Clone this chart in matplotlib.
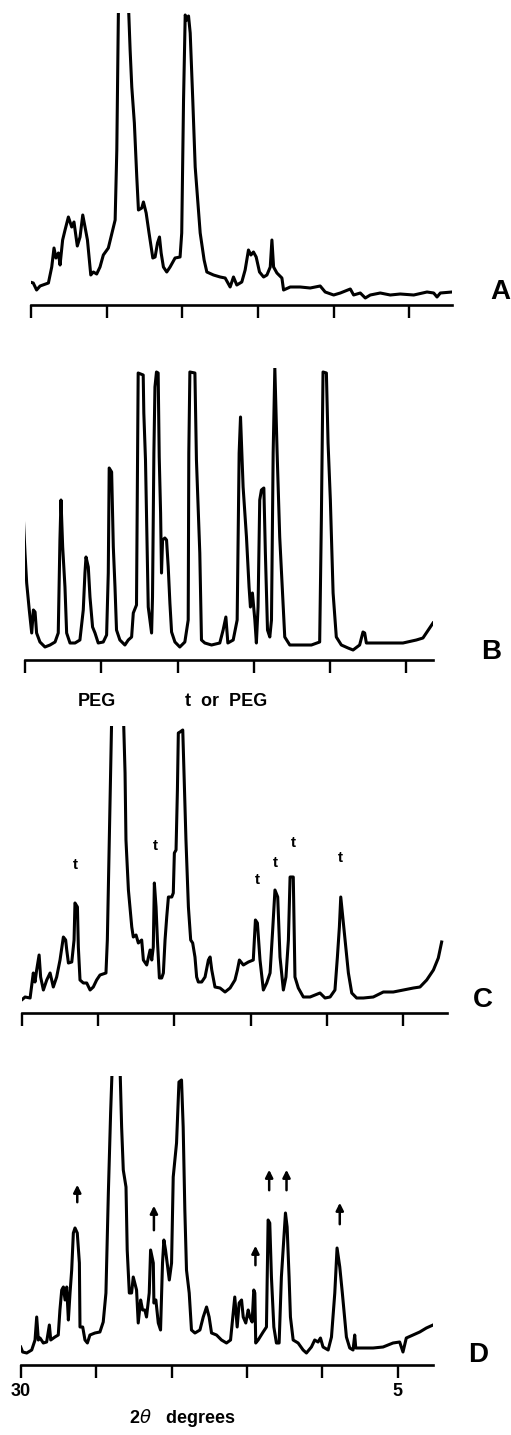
import matplotlib
matplotlib.use("Agg")
import matplotlib.pyplot as plt

plt.rcParams['font.family'] = ['Liberation Sans', 'DejaVu Sans']

# X-ray diffraction traces, 2theta (degrees) vs intensity (arb. units)
a_2theta = [30.07, 29.85, 29.63, 29.40, 28.85, 28.63, 28.48, 28.35, 28.19, 28.08, 27.91, 27.75, 27.53, 27.31,
            27.16, 26.94, 26.76, 26.58, 26.43, 26.27, 26.05, 25.88, 25.66, 25.44, 25.22, 24.89, 24.44, 24.33,
            24.22, 23.90, 23.56, 23.45, 23.34, 23.17, 23.01, 22.90, 22.68, 22.57, 22.39, 22.20, 21.95, 21.80,
            21.64, 21.51, 21.40, 21.25, 21.03, 20.81, 20.48, 20.15, 20.04, 19.92, 19.81, 19.70, 19.59, 19.48,
            19.31, 19.15, 18.82, 18.56, 18.38, 17.94, 17.50, 17.17, 16.84, 16.62, 16.40, 16.07, 15.85, 15.63,
            15.47, 15.30, 15.12, 14.90, 14.63, 14.41, 14.19, 14.08, 13.97, 13.75, 13.42, 13.31, 12.87, 12.21,
            11.55, 10.89, 10.56, 10.00, 9.56, 8.90, 8.68, 8.24, 7.91, 7.58, 6.92, 6.26, 5.60, 4.71, 3.83,
            3.39, 3.17, 2.95, 2.18]
a_counts = [23, 22, 15, 19, 22, 38, 57, 47, 52, 40, 65, 75, 88, 78,
            83, 59, 68, 90, 78, 65, 30, 33, 31, 38, 50, 57, 85, 155,
            300, 420, 300, 255, 218, 182, 128, 95, 97, 103, 92, 72, 47, 48,
            62, 68, 52, 38, 33, 38, 47, 48, 72, 205, 290, 285, 289, 272,
            205, 138, 72, 45, 33, 30, 28, 27, 18, 28, 20, 23, 35, 55,
            50, 53, 48, 33, 28, 30, 38, 65, 38, 32, 27, 15, 18, 18,
            17, 19, 13, 10, 12, 16, 10, 12, 7, 10, 12, 10, 11, 10, 13,
            12, 8, 12, 13]

b_2theta = [30.15, 30.00, 29.89, 29.72, 29.56, 29.45, 29.34, 29.24, 29.02, 28.69, 28.36, 28.03, 27.82, 27.71,
            27.64, 27.53, 27.38, 27.27, 27.05, 26.72, 26.40, 26.18, 26.07, 26.00, 25.85, 25.74, 25.57, 25.41,
            25.20, 24.87, 24.65, 24.54, 24.48, 24.32, 24.21, 24.10, 24.00, 23.78, 23.45, 23.23, 23.01, 22.90,
            22.69, 22.58, 22.25, 22.21, 22.10, 21.92, 21.81, 21.70, 21.64, 21.55, 21.48, 21.38, 21.27, 21.20,
            21.11, 21.05, 20.98, 20.83, 20.72, 20.61, 20.50, 20.39, 20.17, 19.85, 19.52, 19.30, 19.26, 19.19,
            18.86, 18.76, 18.54, 18.43, 18.21, 17.77, 17.23, 17.01, 16.83, 16.70, 16.35, 16.09, 15.96, 15.87,
            15.70, 15.48, 15.31, 15.22, 15.09, 14.93, 14.83, 14.72, 14.61, 14.50, 14.34, 14.24, 14.10, 13.95,
            13.84, 13.73, 13.62, 13.47, 13.30, 12.97, 12.64, 11.99, 11.22, 10.68, 10.57, 10.46, 10.24, 10.13,
            9.98, 9.80, 9.59, 9.26, 8.82, 8.49, 8.06, 7.84, 7.73, 7.62, 6.97, 6.09, 5.22, 4.34, 3.91, 3.69,
            3.47, 3.25]
b_counts = [155, 107, 77, 50, 27, 50, 48, 27, 18, 13, 15, 18, 27, 120,
            160, 113, 73, 27, 17, 17, 20, 50, 87, 103, 93, 63, 33, 27,
            17, 18, 25, 87, 192, 188, 113, 73, 30, 20, 15, 20, 23, 47,
            55, 287, 285, 247, 200, 53, 40, 27, 63, 207, 273, 288, 287, 203,
            147, 87, 120, 122, 120, 93, 57, 28, 18, 13, 18, 40, 207, 288,
            287, 200, 107, 20, 17, 15, 17, 30, 43, 17, 20, 40, 207, 243,
            173, 123, 73, 53, 67, 40, 17, 53, 160, 170, 172, 107, 30, 23,
            40, 207, 292, 207, 123, 23, 15, 15, 15, 18, 140, 288, 287, 217,
            160, 67, 23, 15, 12, 10, 15, 28, 27, 17, 17, 17, 17, 20, 22, 27,
            32, 37]

c_2theta = [30.11, 30.00, 29.78, 29.45, 29.24, 29.13, 29.02, 28.86, 28.76, 28.58, 28.36, 28.14, 27.93, 27.71,
            27.49, 27.27, 27.12, 27.05, 26.94, 26.72, 26.57, 26.51, 26.35, 26.29, 26.18, 25.96, 25.74, 25.52,
            25.31, 25.09, 24.87, 24.48, 24.39, 24.26, 24.10, 23.72, 23.34, 23.23, 23.17, 23.01, 22.79, 22.69,
            22.51, 22.36, 22.14, 22.03, 21.81, 21.59, 21.48, 21.38, 21.31, 21.20, 21.11, 20.98, 20.83, 20.72,
            20.61, 20.50, 20.39, 20.17, 20.07, 20.00, 19.89, 19.80, 19.74, 19.63, 19.45, 19.37, 19.24, 19.08,
            18.93, 18.80, 18.65, 18.54, 18.43, 18.21, 17.99, 17.77, 17.66, 17.55, 17.34, 17.01, 16.68, 16.35,
            16.03, 15.87, 15.74, 15.48, 15.15, 14.83, 14.69, 14.56, 14.39, 14.17, 13.95, 13.73, 13.56, 13.41,
            13.23, 13.08, 12.86, 12.69, 12.53, 12.42, 12.21, 12.10, 11.88, 11.55, 11.11, 10.46, 10.13, 9.80,
            9.48, 9.32, 9.19, 9.10, 8.97, 8.82, 8.60, 8.38, 8.06, 7.62, 6.97, 6.31, 5.66, 5.00, 4.34, 3.91,
            3.47, 3.03, 2.71, 2.49]
c_counts = [15, 13, 16, 15, 40, 31, 43, 58, 36, 23, 33, 40, 26, 36,
            53, 76, 73, 63, 50, 51, 73, 110, 106, 66, 33, 30, 30, 23,
            26, 33, 38, 40, 73, 173, 300, 420, 300, 240, 173, 123, 86, 76,
            78, 70, 73, 53, 48, 63, 53, 66, 130, 106, 73, 35, 35, 40,
            73, 96, 116, 116, 120, 160, 163, 223, 280, 281, 283, 240, 173, 106,
            73, 70, 56, 36, 31, 31, 36, 53, 56, 43, 26, 25, 21, 25,
            33, 43, 53, 48, 51, 53, 93, 90, 53, 23, 30, 40, 83, 123,
            116, 56, 23, 36, 73, 136, 136, 36, 25, 16, 16, 20, 15, 16,
            23, 56, 86, 116, 96, 73, 40, 20, 15, 15, 16, 21, 21, 23, 25, 26,
            33, 43, 55, 71]

d_2theta = [30.00, 29.87, 29.60, 29.27, 29.16, 29.05, 28.94, 28.83, 28.72, 28.50, 28.28, 28.10, 28.01, 27.73,
            27.51, 27.40, 27.28, 27.17, 27.06, 26.95, 26.84, 26.73, 26.62, 26.51, 26.40, 26.25, 26.11, 26.07,
            25.89, 25.74, 25.58, 25.41, 25.08, 24.75, 24.53, 24.35, 24.19, 24.04, 23.93, 23.69, 23.42, 23.31,
            23.20, 23.02, 22.94, 22.80, 22.65, 22.54, 22.32, 22.21, 22.05, 21.92, 21.77, 21.66, 21.48, 21.39,
            21.21, 21.17, 21.04, 20.88, 20.73, 20.60, 20.51, 20.40, 20.29, 20.15, 20.00, 19.89, 19.67, 19.51,
            19.34, 19.23, 19.12, 19.01, 18.83, 18.68, 18.45, 18.12, 17.90, 17.68, 17.51, 17.35, 17.02, 16.69,
            16.36, 16.09, 15.96, 15.81, 15.65, 15.52, 15.36, 15.25, 15.08, 14.92, 14.81, 14.66, 14.55, 14.48,
            14.42, 14.26, 13.93, 13.71, 13.60, 13.49, 13.38, 13.22, 13.05, 12.87, 12.72, 12.45, 12.34, 12.21,
            12.12, 11.94, 11.61, 11.28, 11.06, 10.73, 10.51, 10.29, 10.13, 9.96, 9.62, 9.40, 9.18, 9.03,
            8.85, 8.68, 8.41, 8.19, 7.97, 7.86, 7.79, 7.31, 6.64, 5.98, 5.32, 4.88, 4.66, 4.44, 4.00, 3.55,
            3.11, 2.67]
d_counts = [18, 13, 12, 15, 20, 25, 48, 25, 27, 22, 23, 40, 25, 28,
            30, 55, 75, 78, 65, 78, 45, 72, 95, 132, 137, 132, 102, 38,
            38, 25, 22, 30, 32, 33, 43, 72, 172, 252, 300, 420, 300, 238,
            195, 178, 115, 72, 72, 88, 75, 42, 65, 55, 55, 48, 72, 115,
            102, 62, 65, 42, 35, 102, 125, 115, 102, 85, 102, 188, 222, 283,
            285, 238, 155, 95, 72, 35, 32, 35, 48, 58, 48, 32, 30, 25,
            22, 25, 45, 68, 38, 62, 65, 48, 42, 55, 48, 43, 75, 72,
            22, 25, 33, 38, 145, 142, 88, 38, 22, 22, 88, 152, 138, 88,
            48, 25, 22, 15, 12, 18, 25, 23, 27, 18, 15, 28, 72, 117,
            98, 72, 28, 17, 15, 30, 17, 17, 17, 18, 22, 23, 13, 27, 30, 33,
            37, 40]

tick_degrees = [30, 25, 20, 15, 10, 5]

# peak markers in C ("t") and D (arrows)
c_t_2theta = [26.51, 21.22, 14.56, 13.41, 12.21, 9.15]
c_t_height = [148, 167, 133, 150, 170, 155]
d_arrow_2theta = [26.25, 21.17, 14.44, 13.53, 12.38, 8.85]
d_arrow_tail = [160, 132, 97, 172, 172, 138]
d_arrow_head = [183, 162, 122, 198, 198, 165]

W, H = 511, 1435
fig = plt.figure(figsize=(W / 100, H / 100), dpi=100)


def add_panel(left, right, bottom, top, x_end, y_top):
    ax = fig.add_axes([left / W, 1 - bottom / H, (right - left) / W, (bottom - top) / H])
    ax.set_xlim(30, x_end)
    ax.set_ylim(0, y_top)
    for s in ['top', 'right', 'left']:
        ax.spines[s].set_visible(False)
    ax.spines['bottom'].set_linewidth(1.9)
    ax.set_yticks([])
    ax.set_xticks(tick_degrees)
    ax.set_xticklabels([''] * len(tick_degrees))
    ax.tick_params(axis='x', direction='out', length=9, width=1.7, pad=4)
    ax.patch.set_alpha(0)
    return ax


ax_a = add_panel(31, 452, 305, 13, 2.18, 292)
ax_b = add_panel(25, 433, 660, 368, 3.25, 292)
ax_c = add_panel(21.7, 446.7, 1013, 726, 2.16, 287)
ax_d = add_panel(20.7, 433, 1365, 1076, 2.67, 289)

line_kw = dict(color='black', lw=2.2, solid_joinstyle='round')
ax_a.plot(a_2theta, a_counts, **line_kw)
ax_b.plot(b_2theta, b_counts, **line_kw)
ax_c.plot(c_2theta, c_counts, **line_kw)
ax_d.plot(d_2theta, d_counts, **line_kw)

for x, y in zip(c_t_2theta, c_t_height):
    ax_c.text(x, y, 't', ha='center', va='center', fontsize=11, fontweight='bold')
ax_c.text(25.09, 311, 'PEG', ha='center', va='center', fontsize=13, fontweight='bold')
ax_c.text(16.64, 311, 't  or  PEG', ha='center', va='center', fontsize=13, fontweight='bold')

for x, y0, y1 in zip(d_arrow_2theta, d_arrow_tail, d_arrow_head):
    ax_d.annotate('', xy=(x, y1), xytext=(x, y0),
                  arrowprops=dict(arrowstyle='-|>', color='black', lw=1.8, mutation_scale=11))

ax_d.set_xticklabels(['30', '', '', '', '', '5'], fontsize=13, fontweight='bold')

fig.text(182 / W, 1 - 1418 / H, r'2$\theta$   degrees', ha='center', va='center',
         fontsize=13, fontweight='bold')

for lab, x, y in [('A', 500, 292), ('B', 491, 652), ('C', 483, 1000), ('D', 478, 1355)]:
    fig.text(x / W, 1 - y / H, lab, ha='center', va='center', fontsize=20, fontweight='bold')

fig.savefig('out.png', dpi=100)
